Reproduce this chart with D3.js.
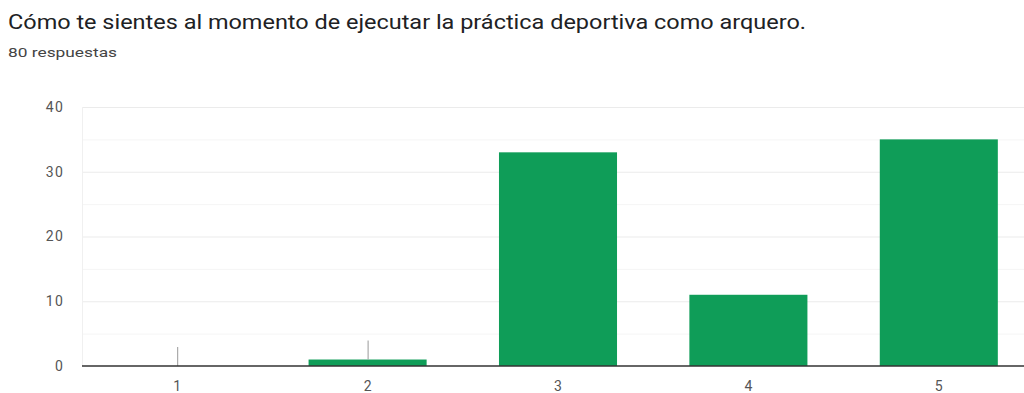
<!DOCTYPE html>
<html>
<head>
<meta charset="utf-8">
<script src="https://cdn.jsdelivr.net/npm/d3@7"></script>
<style>
  html, body { margin: 0; padding: 0; background: #fff; }
  svg { display: block; font-family: Roboto, Arial, sans-serif; }
</style>
</head>
<body>
<svg id="chart" width="1024" height="393"></svg>
<script>
// Survey answers on a 1–5 scale
const categories = ["1", "2", "3", "4", "5"];
const counts = [0, 1, 33, 11, 35];
const yTicks = [0, 10, 20, 30, 40];
const minorTicks = [5, 15, 25, 35];
const title = "Cómo te sientes al momento de ejecutar la práctica deportiva como arquero.";
const subtitle = "80 respuestas";

const svg = d3.select("#chart");
const margin = { left: 82, top: 107, bottom: 366 };
const plotRight = 1034;

const x = d3.scaleBand()
  .domain(categories)
  .range([margin.left, plotRight])
  .paddingInner(0.38)
  .paddingOuter(0.19);

const y = d3.scaleLinear()
  .domain([0, 40])
  .range([margin.bottom, margin.top]);

// Title and response count
svg.append("text")
  .attr("x", 8).attr("y", 29)
  .attr("font-size", 20.5)
  .attr("fill", "#202124")
  .attr("textLength", 798)
  .attr("lengthAdjust", "spacingAndGlyphs")
  .text(title);
svg.append("text")
  .attr("x", 8).attr("y", 57)
  .attr("font-size", 13)
  .attr("fill", "#444")
  .attr("textLength", 109)
  .attr("lengthAdjust", "spacingAndGlyphs")
  .text(subtitle);

// Grid lines
svg.append("g").selectAll("line.minor")
  .data(minorTicks).join("line")
  .attr("x1", margin.left).attr("x2", plotRight)
  .attr("y1", d => y(d) + 0.5).attr("y2", d => y(d) + 0.5)
  .attr("stroke", "#f5f5f5").attr("stroke-width", 1);
svg.append("g").selectAll("line.major")
  .data(yTicks.filter(d => d > 0)).join("line")
  .attr("x1", margin.left).attr("x2", plotRight)
  .attr("y1", d => y(d) + 0.5).attr("y2", d => y(d) + 0.5)
  .attr("stroke", "#ebebeb").attr("stroke-width", 1);
svg.append("line")
  .attr("x1", margin.left + 0.5).attr("x2", margin.left + 0.5)
  .attr("y1", margin.top).attr("y2", margin.bottom)
  .attr("stroke", "#f0f0f0");

// Y axis labels
const yAxis = d3.axisLeft(y).tickValues(yTicks).tickSize(0).tickPadding(18);
svg.append("g")
  .attr("transform", `translate(${margin.left},0)`)
  .call(yAxis)
  .call(g => g.select(".domain").remove())
  .call(g => g.selectAll("text")
    .attr("font-size", 14).attr("fill", "#555")
    .attr("letter-spacing", 1.2)
    .attr("font-family", "Roboto, Arial, sans-serif"));

// Bars
svg.append("g").selectAll("rect")
  .data(counts).join("rect")
  .attr("x", (d, i) => x(categories[i]))
  .attr("width", x.bandwidth())
  .attr("y", d => y(d))
  .attr("height", d => y(0) - y(d))
  .attr("fill", "#0f9d58");

// Small markers for near-zero values
svg.append("g").selectAll("line")
  .data(counts.map((d, i) => ({ d, c: categories[i] })).filter(o => o.d < 2))
  .join("line")
  .attr("x1", o => x(o.c) + x.bandwidth() / 2 + 0.5)
  .attr("x2", o => x(o.c) + x.bandwidth() / 2 + 0.5)
  .attr("y1", o => y(o.d) - 19)
  .attr("y2", o => y(o.d))
  .attr("stroke", "#999").attr("stroke-width", 1);

// Baseline and category labels
const xAxis = d3.axisBottom(x).tickSize(0).tickPadding(15);
svg.append("g")
  .attr("transform", `translate(0,${margin.bottom})`)
  .call(xAxis)
  .call(g => g.select(".domain")
    .attr("d", `M${margin.left},0H${plotRight}`)
    .attr("stroke", "#333").attr("stroke-width", 1.5))
  .call(g => g.selectAll("text")
    .attr("font-size", 14).attr("fill", "#555")
    .attr("font-family", "Roboto, Arial, sans-serif"));
</script>
</body>
</html>
